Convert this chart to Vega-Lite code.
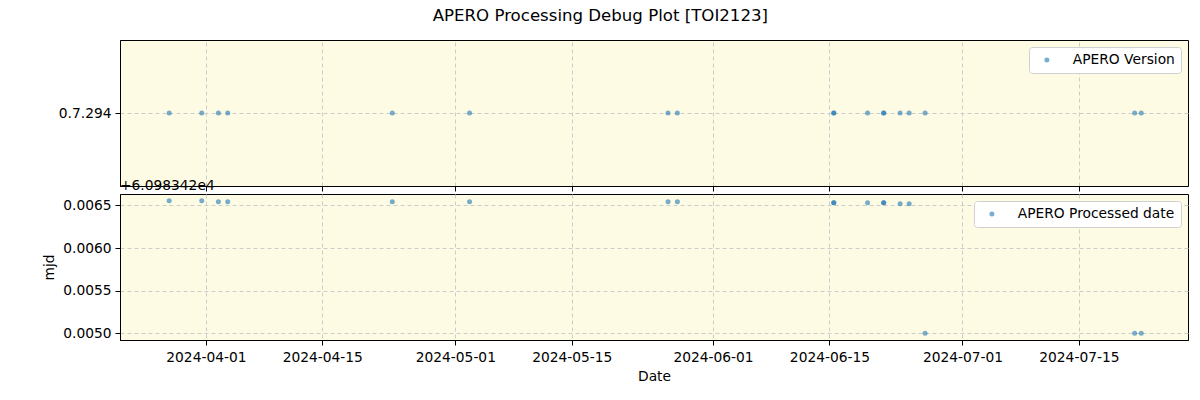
{
  "$schema": "https://vega.github.io/schema/vega-lite/v6.json",
  "padding": {"left": 42, "top": 7, "right": 12, "bottom": 10},
  "background": "white",
  "title": {"text": "APERO Processing Debug Plot [TOI2123]", "fontSize": 16.6, "font": "DejaVu Sans", "fontWeight": "normal", "anchor": "middle", "offset": 15, "dx": -15},
  "bounds": "flush",
  "spacing": 8,
  "datasets": {
    "pts": [
      {"date": "2024-03-27T14:00:00", "version": "0.7.294", "mjd": 0.006555},
      {"date": "2024-03-31T12:00:00", "version": "0.7.294", "mjd": 0.006555},
      {"date": "2024-04-02T12:00:00", "version": "0.7.294", "mjd": 0.006543},
      {"date": "2024-04-03T15:00:00", "version": "0.7.294", "mjd": 0.006543},
      {"date": "2024-04-23T10:00:00", "version": "0.7.294", "mjd": 0.006543},
      {"date": "2024-05-02T17:00:00", "version": "0.7.294", "mjd": 0.006543},
      {"date": "2024-05-26T14:00:00", "version": "0.7.294", "mjd": 0.006543},
      {"date": "2024-05-27T17:00:00", "version": "0.7.294", "mjd": 0.006543},
      {"date": "2024-06-15T12:00:00", "version": "0.7.294", "mjd": 0.00653},
      {"date": "2024-06-15T13:00:00", "version": "0.7.294", "mjd": 0.00653},
      {"date": "2024-06-19T14:00:00", "version": "0.7.294", "mjd": 0.00653},
      {"date": "2024-06-21T12:00:00", "version": "0.7.294", "mjd": 0.00653},
      {"date": "2024-06-21T13:00:00", "version": "0.7.294", "mjd": 0.00653},
      {"date": "2024-06-23T12:00:00", "version": "0.7.294", "mjd": 0.00652},
      {"date": "2024-06-24T14:00:00", "version": "0.7.294", "mjd": 0.00652},
      {"date": "2024-06-26T12:00:00", "version": "0.7.294", "mjd": 0.0050},
      {"date": "2024-07-21T17:00:00", "version": "0.7.294", "mjd": 0.0050},
      {"date": "2024-07-22T12:00:00", "version": "0.7.294", "mjd": 0.0050}
    ]
  },
  "resolve": {"scale": {"color": "independent"}, "legend": {"color": "independent"}},
  "vconcat": [
    {
      "width": 1068,
      "height": 146,
      "data": {"name": "pts"},
      "mark": {"type": "point", "filled": true, "size": 25, "opacity": 0.6},
      "encoding": {
        "x": {"field": "date", "type": "temporal",
          "scale": {"domain": ["2024-03-21T16:00:00", "2024-07-28T03:00:00"], "nice": false},
          "axis": {"labels": false, "title": null,
            "values": ["2024-04-01T00:00:00", "2024-04-15T00:00:00", "2024-05-01T00:00:00", "2024-05-15T00:00:00", "2024-06-01T00:00:00", "2024-06-15T00:00:00", "2024-07-01T00:00:00", "2024-07-15T00:00:00"]}},
        "y": {"field": "version", "type": "nominal", "scale": {"type": "point", "padding": 0.5}, "axis": {"title": null, "labelPadding": 4}},
        "color": {"datum": "APERO Version", "type": "nominal", "scale": {"range": ["#1f77b4"]},
          "legend": {"title": null, "orient": "top-right"}}
      }
    },
    {
      "width": 1068,
      "height": 146,
      "layer": [
        {
          "data": {"name": "pts"},
          "mark": {"type": "point", "filled": true, "size": 25, "opacity": 0.6},
          "encoding": {
            "x": {"field": "date", "type": "temporal",
              "scale": {"domain": ["2024-03-21T16:00:00", "2024-07-28T03:00:00"], "nice": false},
              "axis": {"title": "Date", "format": "%Y-%m-%d", "labelPadding": 5,
                "values": ["2024-04-01T00:00:00", "2024-04-15T00:00:00", "2024-05-01T00:00:00", "2024-05-15T00:00:00", "2024-06-01T00:00:00", "2024-06-15T00:00:00", "2024-07-01T00:00:00", "2024-07-15T00:00:00"]}},
            "y": {"field": "mjd", "type": "quantitative",
              "scale": {"domain": [0.004922, 0.006633], "nice": false, "zero": false},
              "axis": {"title": "mjd", "format": ".4f", "values": [0.005, 0.0055, 0.006, 0.0065], "labelPadding": 4, "titlePadding": 6}},
            "color": {"datum": "APERO Processed date", "type": "nominal", "scale": {"range": ["#1f77b4"]},
              "legend": {"title": null, "orient": "top-right"}}
          }
        },
        {
          "data": {"values": [{"label": "+6.098342e4"}]},
          "mark": {"type": "text", "align": "left", "baseline": "alphabetic", "dy": -4, "fontSize": 13.8, "font": "DejaVu Sans", "color": "black"},
          "encoding": {
            "x": {"datum": {"year": 2024, "month": 3, "date": 21, "hours": 16}, "type": "temporal"},
            "y": {"datum": 0.006633, "type": "quantitative"},
            "text": {"field": "label"}
          }
        }
      ]
    }
  ],
  "config": {
    "font": "DejaVu Sans",
    "view": {"fill": "#fdfbe3", "stroke": "black", "strokeWidth": 1},
    "axis": {
      "labelFont": "DejaVu Sans", "labelFontSize": 13.8, "labelColor": "black",
      "titleFont": "DejaVu Sans", "titleFontSize": 13.8, "titleFontWeight": "normal", "titleColor": "black",
      "domainColor": "black", "tickColor": "black", "tickSize": 5,
      "grid": true, "gridColor": "#cccccc", "gridDash": [4, 3], "gridWidth": 1
    },
    "axisX": {"titlePadding": 6, "labelFlush": false},
    "legend": {
      "labelFont": "DejaVu Sans", "labelFontSize": 13.8, "labelColor": "black",
      "fillColor": "white", "strokeColor": "#d0d0d0", "cornerRadius": 3, "padding": 6,
      "offset": 7, "symbolType": "circle", "symbolSize": 25, "symbolOpacity": 0.6,
      "symbolOffset": 5, "labelOffset": 19
    }
  }
}
